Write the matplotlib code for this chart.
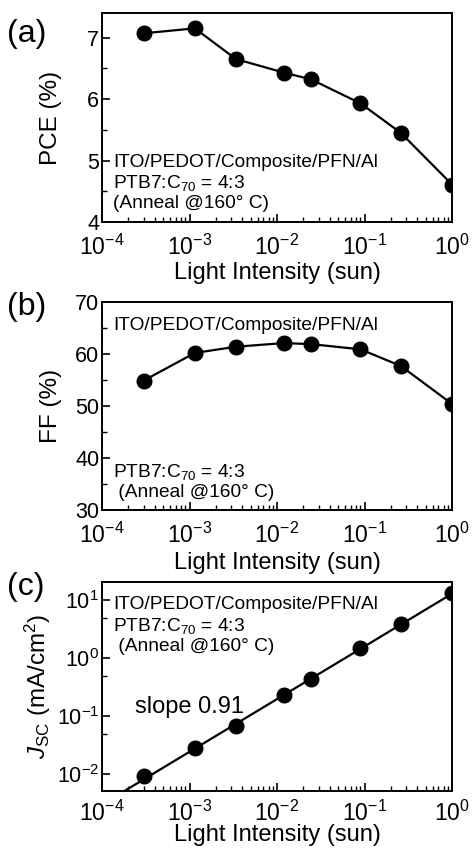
import numpy as np
import matplotlib
matplotlib.use("Agg")
import matplotlib.pyplot as plt
from matplotlib.ticker import LogLocator, MultipleLocator, NullFormatter

plt.rcParams['font.family'] = ['Liberation Sans', 'DejaVu Sans']
plt.rcParams['mathtext.fontset'] = 'custom'
plt.rcParams['mathtext.rm'] = 'Liberation Sans'
plt.rcParams['mathtext.it'] = 'Liberation Sans:italic'
plt.rcParams['mathtext.bf'] = 'Liberation Sans:bold'

# light intensity (sun)
intensity = [3.0e-4, 1.15e-3, 3.4e-3, 1.2e-2, 2.45e-2, 9.0e-2, 0.26, 1.0]
pce = [7.07, 7.15, 6.65, 6.43, 6.32, 5.93, 5.45, 4.61]
ff = [54.9, 60.2, 61.4, 62.1, 61.9, 60.9, 57.7, 50.4]
jsc = [0.0091, 0.028, 0.068, 0.229, 0.444, 1.50, 3.95, 13.6]

# power-law fit shown in (c)
fit_slope = 0.91
fit_prefactor = 13.0
fit_range = [1e-4, 1.0]

device = "ITO/PEDOT/Composite/PFN/Al"
blend = "PTB7:C$_{70}$ = 4:3"
anneal = "(Anneal @160\u00b0 C)"
anneal2 = " (Anneal @160\u00b0 C)"

W, H = 472, 851
fig = plt.figure(figsize=(W / 100, H / 100), dpi=100)


def make_axes(top, bottom, left=102, right=452):
    return fig.add_axes([left / W, 1 - bottom / H, (right - left) / W, (bottom - top) / H])


def style(ax, label_y=-0.19, pad=9):
    ax.set_xscale('log')
    ax.set_xlim(1e-4, 1.0)
    ax.xaxis.set_major_locator(LogLocator(base=10, numticks=10))
    ax.xaxis.set_minor_locator(LogLocator(base=10, subs=np.arange(2, 10), numticks=20))
    ax.xaxis.set_minor_formatter(NullFormatter())
    ax.tick_params(which='both', direction='in', top=False, right=False)
    ax.tick_params(which='major', length=6, width=1.2)
    ax.tick_params(which='minor', length=3.5, width=1.0)
    ax.tick_params(axis='x', labelsize=16.5, pad=pad)
    ax.tick_params(axis='y', labelsize=15.5, pad=2)
    for s in ax.spines.values():
        s.set_linewidth(1.4)
    ax.set_xlabel("Light Intensity (sun)", fontsize=17)
    ax.xaxis.set_label_coords(0.5, label_y)


line_kw = dict(color='black', lw=1.6, marker='o', markersize=10.5, markerfacecolor='black')
txt_kw = dict(fontsize=13.8, va='baseline', ha='left')

# (a) PCE
ax1 = make_axes(13, 222)
ax1.plot(intensity, pce, **line_kw)
style(ax1)
ax1.set_ylim(4, 7.4)
ax1.yaxis.set_major_locator(MultipleLocator(1))
ax1.yaxis.set_minor_locator(MultipleLocator(0.5))
ax1.set_ylabel("PCE (%)", fontsize=17.5)
ax1.yaxis.set_label_coords(-0.115, 0.5)
ax1.text(0.031, 0.263, device, transform=ax1.transAxes, **txt_kw)
ax1.text(0.031, 0.163, blend, transform=ax1.transAxes, **txt_kw)
ax1.text(0.031, 0.067, anneal, transform=ax1.transAxes, **txt_kw)
fig.text(7 / W, 1 - 42 / H, "(a)", fontsize=23, ha='left', va='baseline')

# (b) FF
ax2 = make_axes(302, 510)
ax2.plot(intensity, ff, **line_kw)
style(ax2, label_y=-0.2)
ax2.set_ylim(30, 70)
ax2.yaxis.set_major_locator(MultipleLocator(10))
ax2.yaxis.set_minor_locator(MultipleLocator(5))
ax2.set_ylabel("FF (%)", fontsize=17.5)
ax2.yaxis.set_label_coords(-0.115, 0.5)
ax2.text(0.031, 0.865, device, transform=ax2.transAxes, **txt_kw)
ax2.text(0.031, 0.159, blend, transform=ax2.transAxes, **txt_kw)
ax2.text(0.031, 0.0625, anneal2, transform=ax2.transAxes, **txt_kw)
fig.text(7 / W, 1 - 315 / H, "(b)", fontsize=23, ha='left', va='baseline')

# (c) Jsc
ax3 = make_axes(582, 791)
fx = np.array(fit_range)
ax3.plot(fx, fit_prefactor * fx ** fit_slope, color='black', lw=1.6)
ax3.plot(intensity, jsc, ls='none', marker='o', markersize=10.5, color='black')
style(ax3, label_y=-0.16, pad=7)
ax3.set_yscale('log')
ax3.set_ylim(5.1e-3, 20.7)
ax3.yaxis.set_major_locator(LogLocator(base=10, numticks=10))
ax3.yaxis.set_minor_locator(LogLocator(base=10, subs=[5], numticks=20))
ax3.yaxis.set_minor_formatter(NullFormatter())
ax3.set_ylabel(r"$J_{\rm SC}$ (mA/cm$^{2}$)", fontsize=17.5)
ax3.yaxis.set_label_coords(-0.14, 0.5)
ax3.text(0.031, 0.869, device, transform=ax3.transAxes, **txt_kw)
ax3.text(0.031, 0.764, blend, transform=ax3.transAxes, **txt_kw)
ax3.text(0.031, 0.668, anneal2, transform=ax3.transAxes, **txt_kw)
ax3.text(0.094, 0.372, "slope 0.91", transform=ax3.transAxes, fontsize=17, va='baseline')
fig.text(7 / W, 1 - 595 / H, "(c)", fontsize=23, ha='left', va='baseline')

fig.savefig("out.png", dpi=100)
